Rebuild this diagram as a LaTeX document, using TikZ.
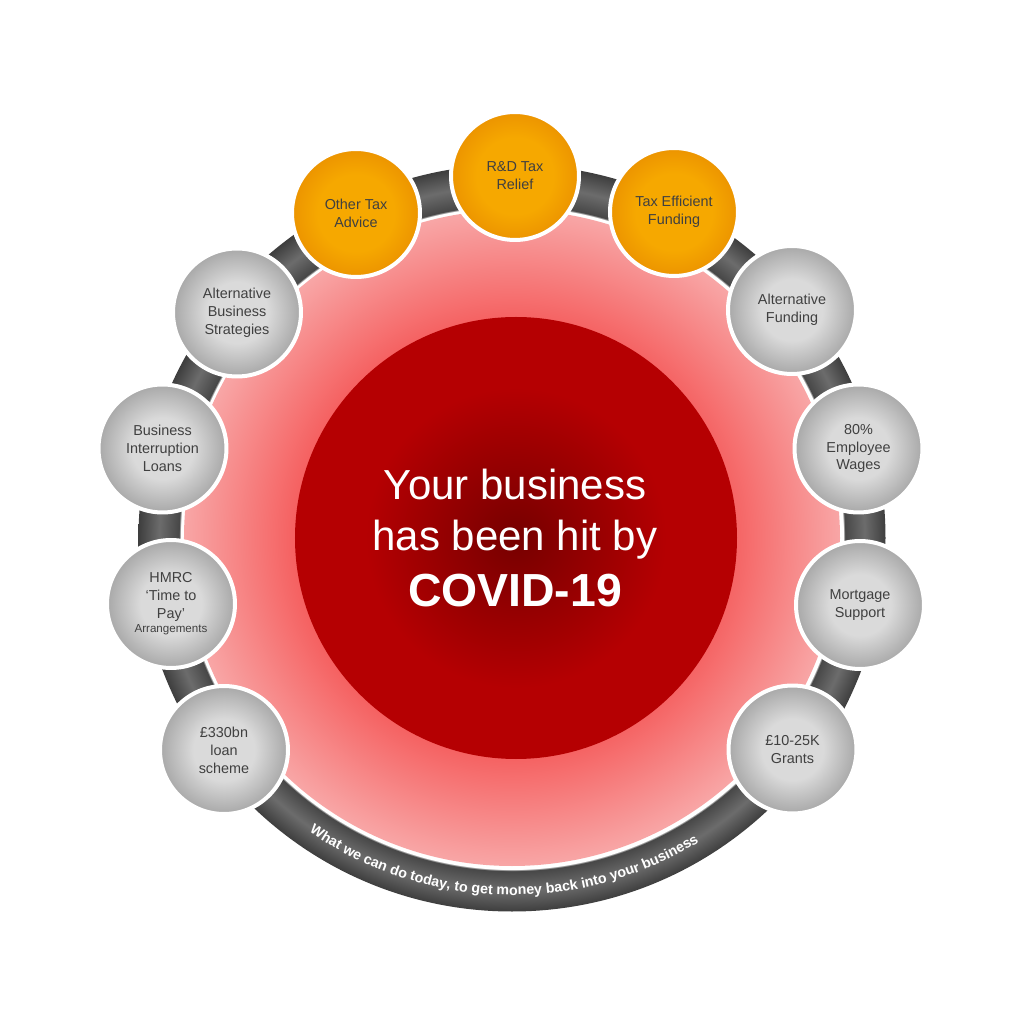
\documentclass[tikz,border=0pt]{standalone}
\usepackage{fontspec}
\setmainfont{Liberation Sans}
\usetikzlibrary{decorations.text}

\definecolor{labelgrey}{RGB}{64,64,64}
\definecolor{bandedge}{RGB}{70,70,70}
\definecolor{bandmid}{RGB}{108,108,108}
\definecolor{bandouter}{RGB}{62,62,62}
\definecolor{pinkdeep}{RGB}{245,96,96}
\definecolor{pinklight}{RGB}{248,166,166}
\definecolor{hubdark}{RGB}{118,0,0}
\definecolor{hubred}{RGB}{181,0,2}
\definecolor{ballcentre}{RGB}{218,218,218}
\definecolor{balledge}{RGB}{168,168,168}
\definecolor{orangecentre}{RGB}{246,168,0}
\definecolor{orangeedge}{RGB}{236,148,0}

\pgfdeclareradialshading{bandring}{\pgfpoint{0bp}{0bp}}{color(0bp)=(white); color(22.2bp)=(white); color(22.25bp)=(bandedge); color(23.6bp)=(bandmid); color(25bp)=(bandouter); color(50bp)=(bandouter)}
\pgfdeclareradialshading{pinkdisc}{\pgfpoint{0bp}{0bp}}{color(0bp)=(pinkdeep); color(16.5bp)=(pinkdeep); color(25bp)=(pinklight); color(50bp)=(pinklight)}
\pgfdeclareradialshading{hubshade}{\pgfpoint{0bp}{0bp}}{color(0bp)=(hubdark); color(17bp)=(hubred); color(25bp)=(hubred); color(50bp)=(hubred)}
\pgfdeclareradialshading{greyball}{\pgfpoint{0bp}{0bp}}{color(0bp)=(ballcentre); color(12bp)=(ballcentre); color(25bp)=(balledge); color(50bp)=(balledge)}
\pgfdeclareradialshading{orangeball}{\pgfpoint{0bp}{0bp}}{color(0bp)=(orangecentre); color(15bp)=(orangecentre); color(25bp)=(orangeedge); color(50bp)=(orangeedge)}

\begin{document}
\begin{tikzpicture}[x=0.02cm,y=0.02cm,
    topic/.style={circle,shade,draw=white,line width=0.08cm,minimum size=2.56cm,
      inner sep=0pt,align=center,text=labelgrey,font=\fontsize{8.2}{10.2}\selectfont},
    greytopic/.style={topic,shading=greyball},
    orangetopic/.style={topic,shading=orangeball},
    hubtext/.style={anchor=base,text=white,inner sep=0pt}]
  \fill[white] (-512,-486) rectangle (512,538);
  \useasboundingbox (-512,-486) rectangle (512,538);
  % ring, pink disc and centre
  \shade[shading=bandring] (0,0) circle (373.5);
  \shade[shading=pinkdisc] (0,0) circle (328);
  \shade[shading=hubshade] (4,0) circle (221);
  \node[hubtext,font=\fontsize{23.9}{28}\selectfont] (hubtop) at (3,38) {Your business};
  \node[hubtext,font=\fontsize{23.9}{28}\selectfont] (hubmid) at (3,-13) {has been hit by};
  \node[hubtext,font=\fontsize{26.4}{32}\selectfont\bfseries] (hubbottom) at (3,-69) {COVID-19};
  % topics round the ring
  \node[orangetopic] (rnd) at (3,362) {R\&D Tax\\Relief};
  \node[orangetopic] (other) at (-156,325) {Other Tax\\Advice};
  \node[orangetopic] (taxeff) at (162,326) {Tax Efficient\\Funding};
  \node[greytopic] (altbus) at (-275,225.5) {Alternative\\Business\\Strategies};
  \node[greytopic] (altfund) at (280,228) {Alternative\\Funding};
  \node[greytopic] (busint) at (-349.5,89.5) {Business\\Interruption\\Loans};
  \node[greytopic] (wages) at (346.5,89.5) {80\%\\Employee\\Wages};
  \node[greytopic] (hmrc) at (-341,-66) {HMRC\\‘Time to\\Pay’\\[-2.2pt]{\fontsize{6.6}{8}\selectfont Arrangements}};
  \node[greytopic] (mortgage) at (348,-67) {Mortgage\\Support};
  \node[greytopic] (loan) at (-288,-212) {£330bn\\loan\\scheme};
  \node[greytopic] (grants) at (280.5,-211.5) {£10-25K\\Grants};
  % text on the bottom of the ring
  \path[decorate,decoration={text along path,text align=center,text color=white,
      text={|\fontsize{8.1}{10}\selectfont\bfseries|What we can do today, to get money back into your business}}]
    (222:357) arc[start angle=222,end angle=315,radius=357];
\end{tikzpicture}
\end{document}
